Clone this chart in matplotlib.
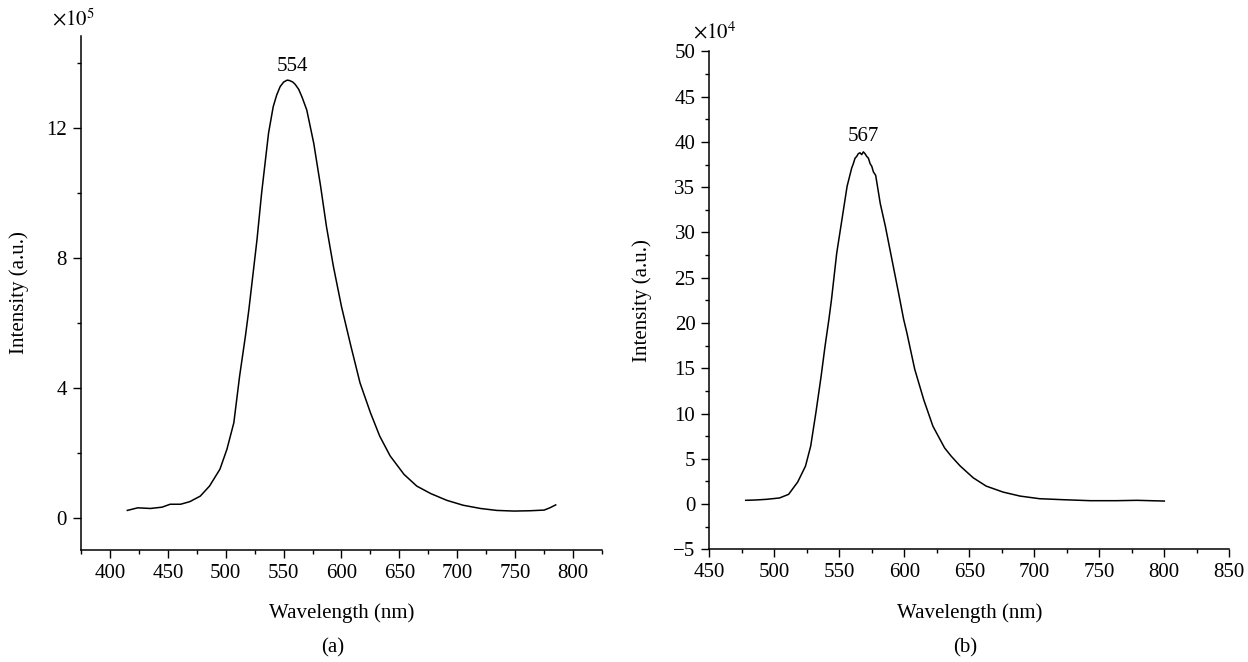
import matplotlib
matplotlib.use("Agg")
import matplotlib.pyplot as plt
from matplotlib.ticker import MultipleLocator

plt.rcParams['font.family'] = ['Liberation Serif', 'DejaVu Serif']
plt.rcParams['mathtext.fontset'] = 'stix'
plt.rcParams['axes.unicode_minus'] = True

# panel (a): intensity in units of 1e5
wl_a = [415, 424, 435, 445, 452, 461, 469, 478, 486, 495, 501, 507, 512, 517, 520,
        527, 531, 537, 541, 544, 547, 550, 553, 555, 558, 560, 563, 566, 570, 576,
        582, 587, 593, 600, 608, 616,
        625, 633, 642, 654, 665, 677, 691, 705, 720, 734, 749, 763, 775, 780, 785]
int_a = [0.22, 0.30, 0.28, 0.32, 0.41, 0.41, 0.49, 0.66, 0.97, 1.49, 2.10, 2.92, 4.36, 5.59, 6.41,
         8.56, 10.0, 11.85, 12.66, 13.02, 13.28, 13.42, 13.48, 13.47, 13.42, 13.35, 13.2, 12.95, 12.56, 11.54,
         10.2, 8.97, 7.74, 6.5, 5.3, 4.15,
         3.23, 2.51, 1.90, 1.33, 0.97, 0.74, 0.53, 0.38, 0.28, 0.22, 0.20, 0.21, 0.23, 0.30, 0.39]

# panel (b): intensity in units of 1e4
wl_b = [478, 486, 494, 504, 511, 518, 524, 528, 532, 536, 539, 542, 544, 548, 552,
        556, 559.5, 560.8, 562.1, 563.4, 564.6, 565.9, 567.2, 568.5, 569.8, 571.1, 572.4, 573.7, 575, 576.2,
        578, 581.5, 585.4, 590.5, 595.6, 599.5, 602, 608, 615, 622, 631, 636, 643, 653,
        663, 676, 689, 704, 722, 743, 763, 779, 800]
int_b = [0.41, 0.45, 0.52, 0.67, 1.07, 2.43, 4.19, 6.4, 10.1, 14.1, 17.4, 20.4, 22.6, 27.7, 31.4,
         35.1, 37.1, 37.6, 38.2, 38.4, 38.7, 38.8, 38.6, 38.9, 38.7, 38.4, 38.2, 37.6, 37.3, 36.7,
         36.3, 33.2, 30.7, 27.0, 23.3, 20.4, 18.9, 14.9, 11.5, 8.6, 6.2, 5.3, 4.2, 2.9,
         1.98, 1.32, 0.88, 0.59, 0.48, 0.37, 0.37, 0.41, 0.33]

xticks_a = [400, 450, 500, 550, 600, 650, 700, 750, 800]
yticks_a = [0, 4, 8, 12]
xticks_b = [450, 500, 550, 600, 650, 700, 750, 800, 850]
yticks_b = [-5, 0, 5, 10, 15, 20, 25, 30, 35, 40, 45, 50]

W, H = 1248, 662
fig = plt.figure(figsize=(W / 100, H / 100), dpi=100)

ax1 = fig.add_axes([81 / W, (H - 550) / H, 521 / W, (550 - 35.7) / H])
ax2 = fig.add_axes([709.3 / W, (H - 549.3) / H, 520 / W, (549.3 - 51.4) / H])

for ax in (ax1, ax2):
    for s in ('top', 'right'):
        ax.spines[s].set_visible(False)
    for s in ('left', 'bottom'):
        ax.spines[s].set_linewidth(1.1)
    ax.tick_params(which='major', direction='out', length=6, width=1.0, labelsize=15, pad=4)
    ax.tick_params(which='minor', direction='out', length=3, width=1.0)
    ax.set_xlabel('Wavelength (nm)', fontsize=15, labelpad=15)
    ax.set_ylabel('Intensity (a.u.)', fontsize=15)

ax1.plot(wl_a, int_a, color='black', lw=1.1)
ax1.set_xlim(375, 825)
ax1.set_ylim(-1, 14.85)
ax1.set_xticks(xticks_a)
ax1.set_yticks(yticks_a)
ax1.xaxis.set_minor_locator(MultipleLocator(25))
ax1.yaxis.set_minor_locator(MultipleLocator(2))
ax1.text(558, 13.6, '554', ha='center', va='bottom', fontsize=15)
ax1.text(-0.015, 1.01, r'$\times 10^5$', transform=ax1.transAxes, ha='center', va='bottom', fontsize=15)
ax1.yaxis.set_label_coords(-0.1, 0.5)

ax2.plot(wl_b, int_b, color='black', lw=1.1)
ax2.set_xlim(450, 850)
ax2.set_ylim(-5, 50)
ax2.set_xticks(xticks_b)
ax2.set_yticks(yticks_b)
ax2.xaxis.set_minor_locator(MultipleLocator(25))
ax2.yaxis.set_minor_locator(MultipleLocator(2.5))
ax2.text(568.5, 39.6, '567', ha='center', va='bottom', fontsize=15)
ax2.text(0.01, 1.016, r'$\times 10^4$', transform=ax2.transAxes, ha='center', va='bottom', fontsize=15)
ax2.yaxis.set_label_coords(-0.11, 0.5)

fig.text(333 / W, 1 - 648 / H, '(a)', ha='center', va='center', fontsize=15)
fig.text(965 / W, 1 - 648 / H, '(b)', ha='center', va='center', fontsize=15)

fig.savefig('out.png', dpi=100, facecolor='white')
